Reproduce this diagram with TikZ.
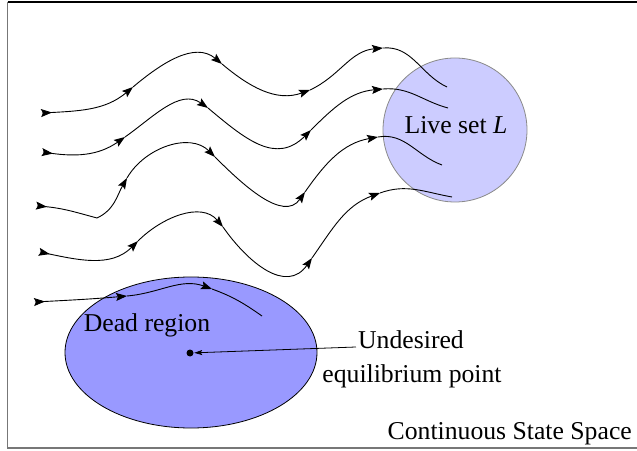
\documentclass[tikz,border=0pt]{standalone}
\usepackage{fontspec}
\setmainfont{Liberation Serif}
\usetikzlibrary{arrows.meta,decorations.markings,shapes.geometric}

\definecolor{liveFill}{HTML}{CCCCFF}
\definecolor{liveEdge}{HTML}{8A8A8A}
\definecolor{deadFill}{HTML}{9999FF}
\definecolor{frameGray}{HTML}{777777}

\tikzset{
  tip/.tip={Stealth[length=11pt,width=8pt,inset=2pt]},
  flow/.style={line width=0.9pt, -tip},
  flowend/.style={line width=0.9pt},
  flowstart/.style={line width=0.9pt, -tip,
    postaction={decorate},
    decoration={markings, mark=at position 10pt with {\arrow{tip}}}},
  lbl/.style={font=\fontsize{25.7}{30}\selectfont, inner sep=2pt},
}

\begin{document}
\begin{tikzpicture}[x=1pt,y=1pt]
\useasboundingbox (0,0) rectangle (637,450);

% frame of the state space
\draw[frameGray, line width=1.2pt] (7.5,448) -- (7.5,2) -- (637,2);
\draw[black, line width=1.2pt] (7.5,448) -- (637,448);

% regions
\node[draw=liveEdge, fill=liveFill, circle, minimum size=144pt, inner sep=0, line width=0.8pt] (live) at (455,320) {};
\node[draw=black, fill=deadFill, ellipse, minimum width=252pt, minimum height=151pt, inner sep=0, line width=0.8pt] (dead) at (191,97.5) {};

% trajectory 1
\coordinate (a0) at (42,337);  \coordinate (a1) at (133,363);
\coordinate (a2) at (222,386); \coordinate (a3) at (310,360);
\coordinate (a4) at (383,402); \coordinate (a5) at (447,363);
\draw[flowstart] (a0) to[out=3,in=220] (a1);
\draw[flow] (a1) to[out=40,in=140] (a2);
\draw[flow] (a2) to[out=-40,in=200] (a3);
\draw[flow] (a3) to[out=25,in=185] (a4);
\draw[flowend] (a4) to[out=5,in=155] (a5);

% trajectory 2
\coordinate (b0) at (43,298);  \coordinate (b1) at (125,313);
\coordinate (b2) at (208,342); \coordinate (b3) at (311,320);
\coordinate (b4) at (383,361); \coordinate (b5) at (448,342);
\draw[flowstart] (b0) to[out=-10,in=215] (b1);
\draw[flow] (b1) to[out=35,in=145] (b2);
\draw[flow] (b2) to[out=-40,in=225,looseness=1.2] (b3);
\draw[flow] (b3) to[out=45,in=185] (b4);
\draw[flowend] (b4) to[out=5,in=165] (b5);

% trajectory 3
\coordinate (c0) at (37,244);  \coordinate (cl) at (97,232);
\coordinate (c1) at (127,272); \coordinate (c2) at (215,293);
\coordinate (c3) at (305,258); \coordinate (c4) at (378,313);
\coordinate (c5) at (442,285);
\draw[line width=0.9pt, postaction={decorate},
  decoration={markings, mark=at position 10pt with {\arrow{tip}}}]
  (c0) to[out=-3,in=165] (cl);
\draw[flow] (cl) to[out=25,in=240] (c1);
\draw[flow] (c1) to[out=60,in=135] (c2);
\draw[flow] (c2) to[out=-45,in=235] (c3);
\draw[flow] (c3) to[out=55,in=190] (c4);
\draw[flowend] (c4) to[out=10,in=160] (c5);

% trajectory 4
\coordinate (d0) at (40,198);  \coordinate (d1) at (138,209);
\coordinate (d2) at (223,223); \coordinate (d3) at (312,192);
\coordinate (d4) at (380,257); \coordinate (d5) at (452,253);
\draw[flowstart] (d0) to[out=-12,in=225] (d1);
\draw[flow] (d1) to[out=45,in=130] (d2);
\draw[flow] (d2) to[out=-55,in=235,looseness=1.2] (d3);
\draw[flow] (d3) to[out=55,in=200] (d4);
\draw[flowend] (d4) to[out=20,in=170] (d5);

% trajectory 5 (ends in the dead region)
\coordinate (e0) at (35,148);  \coordinate (e1) at (127,154);
\coordinate (e2) at (212,161); \coordinate (e3) at (262,134);
\draw[flowstart] (e0) to[out=3,in=185] (e1);
\draw[flow] (e1) to[out=5,in=160] (e2);
\draw[flowend] (e2) to[out=-20,in=145] (e3);

% labels
\node[lbl, anchor=base] (livetxt) at (456,316) {Live set \textit{L}};
\node[lbl, anchor=base] (deadtxt) at (147,118) {Dead region};
\node[lbl, anchor=base] (undes) at (411,101) {Undesired};
\node[lbl, anchor=base] (equil) at (412,68) {equilibrium point};
\node[lbl, anchor=base east, inner sep=0] (space) at (632,11) {Continuous State Space};

% undesired equilibrium
\node[circle, fill=black, minimum size=7pt, inner sep=0] (eqpt) at (190,97) {};
\draw[line width=0.8pt, -{Stealth[length=8pt,width=5pt,inset=1.5pt]}, shorten >=0.5pt]
  ([yshift=2pt]undes.base west) -- (eqpt);
\end{tikzpicture}
\end{document}
